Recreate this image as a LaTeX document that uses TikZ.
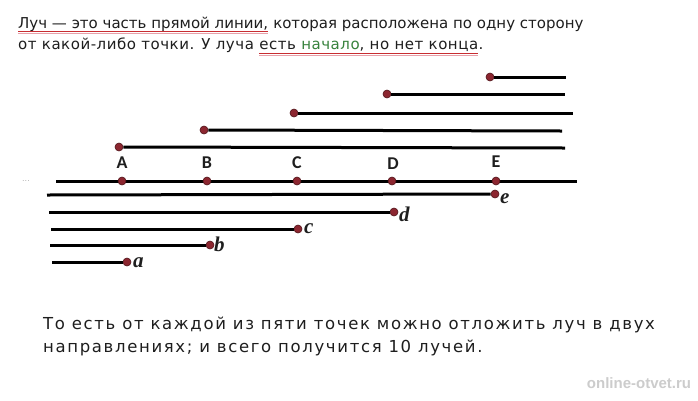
\documentclass[tikz,border=0pt]{standalone}
\usepackage{fontspec}
\setmainfont{DejaVu Sans}
\newfontfamily\lblfont{Carlito}
\newfontfamily\itfont{Liberation Serif}
\newfontfamily\wmfont{Liberation Sans}
\newfontfamily\wideLS[LetterSpace=3.5]{DejaVu Sans}
\newfontfamily\wideB[LetterSpace=10]{DejaVu Sans}
\definecolor{dotred}{RGB}{140,38,48}
\definecolor{dotedge}{RGB}{80,20,25}
\definecolor{ulred}{RGB}{200,45,50}
\definecolor{ulpink}{RGB}{232,160,170}
\definecolor{txtgreen}{RGB}{55,130,60}
\definecolor{txtgray}{RGB}{30,30,30}
\begin{document}
\begin{tikzpicture}[x=1pt,y=-1pt,
  ray/.style={line width=3pt,black},
  pt/.style={circle,fill=dotred,draw=dotedge,line width=0.6pt,minimum size=8pt,inner sep=0pt},
  hd/.style={inner sep=0pt,anchor=base west,font=\fontsize{15}{18}\selectfont,text=txtgray},
  hdw/.style={inner sep=0pt,anchor=base west,font=\wideLS\fontsize{15}{18}\selectfont,text=txtgray},
  ft/.style={inner sep=0pt,anchor=base west,font=\wideB\fontsize{16.5}{18}\selectfont,text=txtgray},
  up/.style={font=\lblfont\bfseries\fontsize{18}{18}\selectfont,text=txtgray,inner sep=0pt},
  lo/.style={font=\itfont\bfseries\itshape\fontsize{21}{21}\selectfont,text=txtgray,inner sep=0pt,anchor=west},
  ulr/.style={ulred,line width=1pt},
  ulp/.style={ulpink,line width=1pt}]
\useasboundingbox[fill=white] (0,0) rectangle (698,400);
% header text
\node[hd] (h1a) at (18,28) {Луч — это часть прямой линии,};
\node[hd] (h1b) at (h1a.base east) {\ которая расположена по одну сторону};
\node[hdw] (h2a) at (18,49) {от какой-либо точки. У луча};
\node[hdw] (h2b) at ([xshift=5pt]h2a.base east) {есть \textcolor{txtgreen}{начало}, но нет конца};
\node[hdw] (h2c) at (h2b.base east) {.};
\draw[ulr] ([yshift=-3.5pt]h1a.base west) -- ([yshift=-3.5pt]h1a.base east);
\draw[ulp] ([yshift=-5.8pt]h1a.base west) -- ([yshift=-5.8pt]h1a.base east);
\draw[ulr] ([yshift=-4pt]h2b.base west) -- ([yshift=-4pt]h2b.base east);
\draw[ulp] ([yshift=-6.3pt]h2b.base west) -- ([yshift=-6.3pt]h2b.base east);
% upper rays
\coordinate (rE) at (566,77);
\coordinate (rD) at (565,94);
\coordinate (rC) at (573,113);
\coordinate (rB) at (562,131);
\coordinate (rA) at (565,148);
\node[pt] (sE) at (490,77) {};
\node[pt] (sD) at (387,94) {};
\node[pt] (sC) at (294,113) {};
\node[pt] (sB) at (204,130) {};
\node[pt] (sA) at (119,147) {};
\draw[ray] (sE.east) -- (rE);
\draw[ray] (sD.east) -- (rD);
\draw[ray] (sC.east) -- (rC);
\draw[ray] (sB.east) -- (rB);
\draw[ray] (sA.east) -- (rA);
% main line
\coordinate (mL) at (56,181);
\coordinate (mR) at (577,181);
\draw[ray] (mL) -- (mR);
\node[pt] (A) at (122,181) {};
\node[pt] (B) at (207,181) {};
\node[pt] (C) at (297,181) {};
\node[pt] (D) at (392,181) {};
\node[pt] (E) at (496,181) {};
\node[up] (lA) at (122,163) {A};
\node[up] (lB) at (207,163) {B};
\node[up] (lC) at (297,163) {C};
\node[up] (lD) at (393,164) {D};
\node[up] (lE) at (496,162) {E};
\node[text=gray!60,font=\fontsize{8}{8}\selectfont,inner sep=0pt] (dots) at (26,181) {...};
% lower rays
\coordinate (le) at (47,195);
\coordinate (ld) at (49,212);
\coordinate (lc) at (51,229);
\coordinate (lb) at (50,245);
\coordinate (la) at (52,262);
\node[pt] (pe) at (495,194) {};
\node[pt] (pd) at (394,212) {};
\node[pt] (pc) at (298,229) {};
\node[pt] (pb) at (210,245) {};
\node[pt] (pa) at (127,262) {};
\draw[ray] (le) -- (pe.west);
\draw[ray] (ld) -- (pd.west);
\draw[ray] (lc) -- (pc.west);
\draw[ray] (lb) -- (pb.west);
\draw[ray] (la) -- (pa.west);
\node[lo] (te) at (500,199) {e};
\node[lo] (td) at (399,214) {d};
\node[lo] (tc) at (304,229) {c};
\node[lo] (tb) at (214,244) {b};
\node[lo] (ta) at (133,263) {a};
% bottom text
\node[ft] (f1) at (43,329) {То есть от каждой из пяти точек можно отложить луч в двух};
\node[ft] (f2) at (43,352) {направлениях; и всего получится 10 лучей.};
% watermark
\node[font=\wmfont\bfseries\fontsize{15}{15}\selectfont,text=gray!40,inner sep=0pt] (wm) at (639,383) {online-otvet.ru};
\end{tikzpicture}
\end{document}
